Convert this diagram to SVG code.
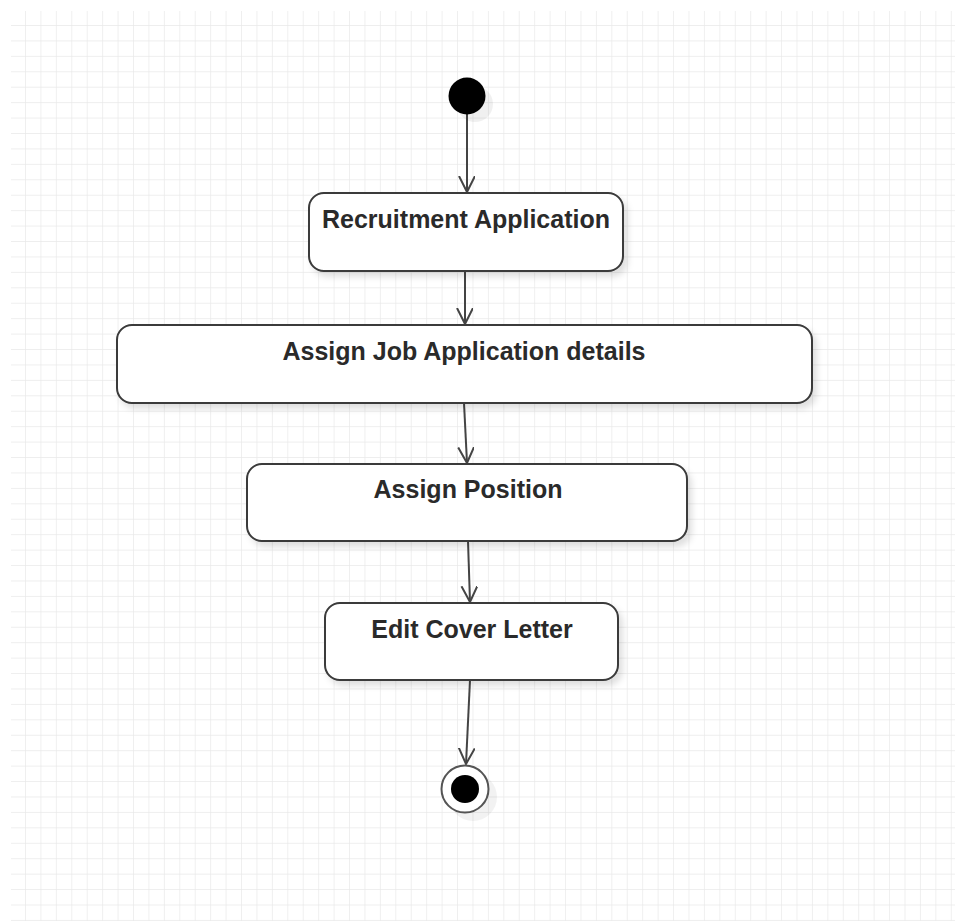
<svg xmlns="http://www.w3.org/2000/svg" width="955" height="923" viewBox="0 0 955 923">
<style>
.box{fill:#ffffff;stroke:#3a3a3a;stroke-width:2;filter:url(#sh)}
.lbl{font-family:"Liberation Sans",Arial,sans-serif;font-weight:bold;font-size:25px;fill:#2a2a2a;text-anchor:middle}
.edge{stroke:#444;stroke-width:2;fill:none;marker-end:url(#arr)}
</style>
<defs>
<pattern id="grid" patternUnits="userSpaceOnUse" x="25" y="25" width="15.43" height="15.43">
<path d="M0 0V15.43M0 0H15.43" stroke="#e9e9e9" stroke-width="1.4" fill="none"/>
</pattern>
<filter id="sh" x="-10%" y="-20%" width="130%" height="160%">
<feDropShadow dx="4" dy="5" stdDeviation="3" flood-color="#000" flood-opacity="0.12"/>
</filter>
<marker id="arr" markerWidth="20" markerHeight="20" refX="16" refY="8" orient="auto" markerUnits="userSpaceOnUse">
<path d="M0 0L16 8L0 16" fill="none" stroke="#444" stroke-width="2"/>
</marker>
</defs>
<rect width="955" height="923" fill="#ffffff"/>
<rect x="11" y="11" width="944" height="910" fill="url(#grid)"/>
<g id="connectors">
<line class="edge" x1="467" y1="114" x2="467" y2="192"/>
<line class="edge" x1="465" y1="271" x2="465" y2="324"/>
<line class="edge" x1="464" y1="403" x2="467" y2="463"/>
<line class="edge" x1="468" y1="541" x2="470" y2="602"/>
<line class="edge" x1="470" y1="680" x2="466" y2="764"/>
</g>
<g id="start">
<circle cx="475" cy="104" r="18" fill="#000" opacity="0.06"/>
<circle cx="467" cy="96" r="18.5" fill="#000"/>
</g>
<g id="recruitment">
<rect class="box" x="309" y="193" width="314" height="78" rx="15"/>
<text class="lbl" x="466" y="228">Recruitment Application</text>
</g>
<g id="assign-job">
<rect class="box" x="117" y="325" width="695" height="78" rx="15"/>
<text class="lbl" x="464" y="360">Assign Job Application details</text>
</g>
<g id="assign-position">
<rect class="box" x="247" y="464" width="440" height="77" rx="15"/>
<text class="lbl" x="468" y="498">Assign Position</text>
</g>
<g id="edit-cover">
<rect class="box" x="325" y="603" width="293" height="77" rx="15"/>
<text class="lbl" x="472" y="638">Edit Cover Letter</text>
</g>
<g id="end">
<circle cx="473" cy="797" r="24" fill="#000" opacity="0.05"/>
<circle cx="465" cy="789" r="23.5" fill="#fff" stroke="#555" stroke-width="2"/>
<circle cx="465" cy="789" r="14" fill="#000"/>
</g>
</svg>
